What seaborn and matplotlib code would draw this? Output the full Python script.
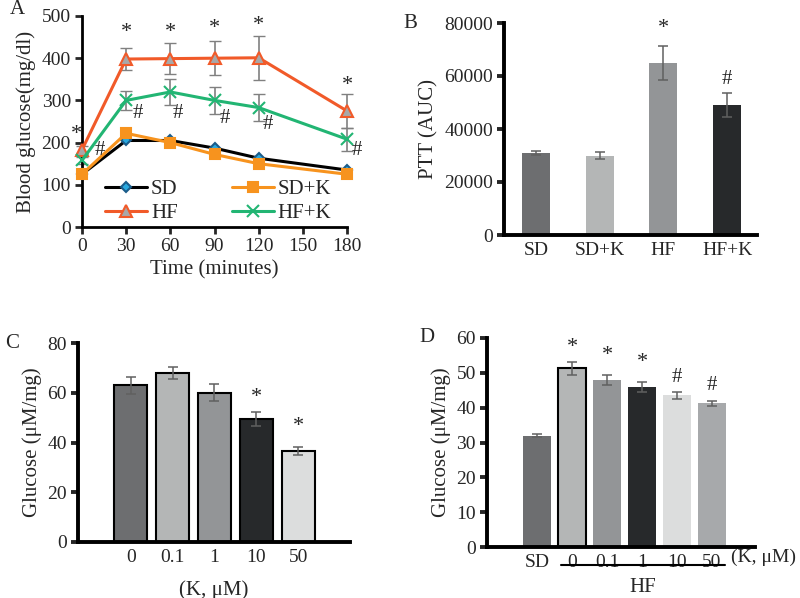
import numpy as np
import pandas as pd
import matplotlib.pyplot as plt
import seaborn as sns

# Panel A: blood glucose over time
time = [0, 30, 60, 90, 120, 180]
sd = [125, 205, 205, 187, 163, 135]
sd_err = [4, 5, 5, 5, 4, 4]
sdk = [125, 222, 200, 172, 150, 125]
sdk_err = [4, 5, 5, 5, 4, 4]
hf = [183, 398, 399, 400, 401, 275]
hf_err = [8, 27, 37, 40, 52, 40]
hfk = [158, 300, 320, 300, 283, 208]
hfk_err = [8, 23, 30, 32, 32, 27]
star_a_x = [-4, 30, 60, 90, 120, 180]
star_a_y = [220, 460, 460, 470, 478, 336]
hash_a_x = [12, 38, 65, 97, 126, 187]
hash_a_y = [182, 270, 270, 258, 242, 182]

# Panel B: PTT AUC
groups_b = ['SD', 'SD+K', 'HF', 'HF+K']
ptt = [31000, 30000, 65000, 49000]
ptt_err = [700, 1200, 6500, 4500]

# Panel C: glucose vs K dose
doses_c = ['0', '0.1', '1', '10', '50']
glu_c = [63, 68, 60, 49.5, 36.5]
glu_c_err = [3.5, 2.3, 3.5, 2.8, 1.5]

# Panel D: glucose, SD vs HF with K doses
groups_d = ['SD', '0', '0.1', '1', '10', '50']
glu_d = [32, 51.3, 48, 46, 43.5, 41.3]
glu_d_err = [0.5, 1.8, 1.5, 1.5, 1.0, 0.7]

sns.set_style('ticks')
plt.rcParams['font.family'] = ['Liberation Serif', 'DejaVu Serif']
plt.rcParams['font.size'] = 14

fig = plt.figure(figsize=(8, 5.98), dpi=100)

def px_axes(l, t, r, b):
    return fig.add_axes([l / 800, (598 - b) / 598, (r - l) / 800, (b - t) / 598])

def style_axes(ax, lw=2.2):
    sns.despine(ax=ax)
    for s in ['left', 'bottom']:
        ax.spines[s].set_linewidth(lw)
        ax.spines[s].set_color('black')
    ax.tick_params(axis='y', direction='out', length=5, width=lw, labelsize=14, pad=3)

# ---- A ----
axA = px_axes(82, 16, 347, 227)
series = [('SD', sd, sd_err, 'black', 'D', '#29a9e0', '#1b5c8a', 5.5),
          ('HF', hf, hf_err, '#f15a29', '^', '#a8a8a8', '#f15a29', 8),
          ('SD+K', sdk, sdk_err, '#f7931e', 's', '#f7931e', '#f7931e', 7),
          ('HF+K', hfk, hfk_err, '#22b573', 'x', '#22b573', '#22b573', 8)]
for name, vals, err, col, mk, mfc, mec, ms in series:
    if name.startswith('HF'):
        axA.errorbar(time, vals, yerr=err, fmt='none', ecolor='#808080',
                     elinewidth=1.2, capsize=4, zorder=1, clip_on=False)
for name, vals, err, col, mk, mfc, mec, ms in series:
    sns.lineplot(x=time, y=vals, ax=axA, color=col, lw=2.2, marker=mk,
                 markersize=ms, markerfacecolor=mfc, markeredgecolor=mec,
                 markeredgewidth=1.5, label=name, clip_on=False, zorder=3)
for x, y in zip(star_a_x, star_a_y):
    axA.text(x, y, '*', ha='center', va='center', fontsize=16)
for x, y in zip(hash_a_x, hash_a_y):
    axA.text(x, y, '#', ha='center', va='center', fontsize=15)
axA.set_xlim(0, 180)
axA.set_ylim(0, 500)
axA.set_xticks(range(0, 181, 30))
axA.set_yticks(range(0, 501, 100))
style_axes(axA, 2.0)
axA.tick_params(axis='x', direction='out', length=5, width=2, labelsize=14, pad=3)
axA.set_xlabel('Time (minutes)', fontsize=15, labelpad=4)
axA.set_ylabel('Blood glucose(mg/dl)', fontsize=15, labelpad=4)
axA.legend(loc='lower left', bbox_to_anchor=(0.04, -0.04), ncol=2, frameon=False,
           fontsize=15, handlelength=2.0, handletextpad=0.2, columnspacing=2.6,
           labelspacing=0.2, borderaxespad=0.2)
fig.text(10 / 800, 1 - 10 / 598, 'A', ha='left', va='center', fontsize=15)

bar_cols = {'dg': '#6d6e70', 'lg': '#b4b6b6', 'mg': '#939597', 'bk': '#27292b',
            'vl': '#dcdddd', 'g2': '#a7a9ab'}

def bars(ax, labels, vals, err, colors, width, edge=None):
    sns.barplot(x=labels, y=vals, hue=labels, palette=colors, legend=False,
                width=width, ax=ax, saturation=1, linewidth=0)
    if edge is not None:
        for p, e in zip(ax.patches, edge):
            if e:
                p.set_edgecolor('black')
                p.set_linewidth(1.5)
    ax.errorbar(range(len(vals)), vals, yerr=err, fmt='none', ecolor='#606060',
                elinewidth=1.1, capsize=3.5, capthick=1.1, zorder=5)
    style_axes(ax, 2.8)
    ax.tick_params(axis='x', length=0, labelsize=14, pad=5)

# ---- B ----
axB = px_axes(504, 23, 757, 235)
bars(axB, groups_b, ptt, ptt_err,
     [bar_cols['dg'], bar_cols['lg'], bar_cols['mg'], bar_cols['bk']], 0.44)
axB.set_xlim(-0.5, 3.47)
axB.set_ylim(0, 80000)
axB.set_yticks(range(0, 80001, 20000))
axB.set_ylabel('PTT (AUC)', fontsize=15, labelpad=4)
axB.text(2, 78000, '*', ha='center', va='center', fontsize=16)
axB.text(3, 58500, '#', ha='center', va='center', fontsize=15)
fig.text(410 / 800, 1 - 23 / 598, 'B', ha='center', va='center', fontsize=15)

# ---- C ----
axC = px_axes(78, 343, 350, 542)
bars(axC, doses_c, glu_c, glu_c_err,
     [bar_cols['dg'], bar_cols['lg'], bar_cols['mg'], bar_cols['bk'], bar_cols['vl']],
     0.79, edge=[1, 1, 1, 1, 1])
axC.set_xlim(-1.26, 5.24)
axC.set_ylim(0, 80)
axC.set_yticks(range(0, 81, 20))
axC.set_ylabel('Glucose (μM/mg)', fontsize=15, labelpad=4)
axC.set_xlabel('(K, μM)', fontsize=15, labelpad=10)
axC.text(3, 58, '*', ha='center', va='center', fontsize=16)
axC.text(4, 46.5, '*', ha='center', va='center', fontsize=16)
fig.text(12 / 800, 1 - 343 / 598, 'C', ha='center', va='center', fontsize=15)

# ---- D ----
axD = px_axes(487, 338, 755, 547)
bars(axD, groups_d, glu_d, glu_d_err,
     [bar_cols['dg'], bar_cols['lg'], bar_cols['mg'], bar_cols['bk'], bar_cols['vl'], bar_cols['g2']],
     0.78, edge=[0, 1, 0, 0, 0, 0])
axD.set_xlim(-1.43, 6.23)
axD.set_ylim(0, 60)
axD.set_yticks(range(0, 61, 10))
axD.set_ylabel('Glucose (μM/mg)', fontsize=15, labelpad=4)
for x, y in zip([1, 2, 3], [57.4, 55.1, 53.1]):
    axD.text(x, y, '*', ha='center', va='center', fontsize=16)
for x, y in zip([4, 5], [48.8, 46.5]):
    axD.text(x, y, '#', ha='center', va='center', fontsize=15)
trD = axD.get_xaxis_transform()
axD.plot([0.69, 5.37], [-0.086, -0.086], color='black', lw=1.5, transform=trD, clip_on=False)
axD.text(3.03, -0.196, 'HF', transform=trD, ha='center', va='center', fontsize=15)
axD.text(5.55, -0.05, '(K, μM)', transform=trD, ha='left', va='center', fontsize=14)
fig.text(427 / 800, 1 - 337 / 598, 'D', ha='center', va='center', fontsize=15)

fig.savefig('out.png', dpi=100)
